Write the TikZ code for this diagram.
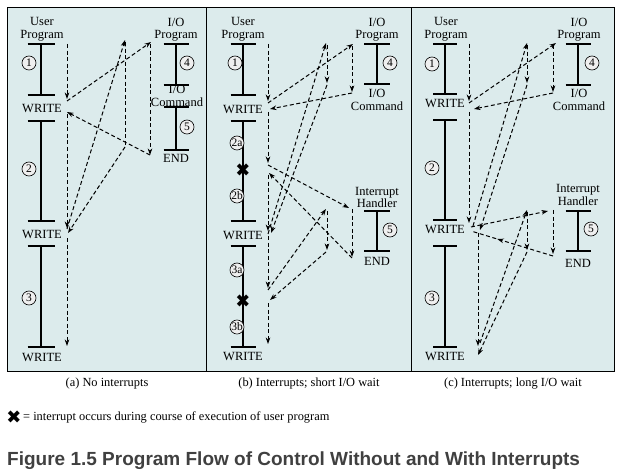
\documentclass[tikz,border=0pt]{standalone}
\usepackage{fontspec}
\setmainfont{Liberation Serif}
\newfontfamily\dejavu{DejaVu Sans}
\newfontfamily\titlefont{Liberation Sans}
\usetikzlibrary{arrows.meta,decorations.markings}
\definecolor{panelbg}{HTML}{DCEBEC}
\definecolor{circfill}{HTML}{EFEFEF}
\definecolor{titlegray}{HTML}{404040}
\tikzset{
  lbl/.style={inner sep=0pt, align=center, font=\fontsize{12.5}{12.5}\selectfont},
  numc/.style={circle, draw, line width=0.6pt, fill=circfill, inner sep=0pt, minimum size=14pt, font=\fontsize{11.5}{10}\selectfont},
  bar/.style={line width=2.5pt},
  flow/.style={line width=1pt, dash pattern=on 4pt off 2.6pt, -{Stealth[length=6.5pt,width=4.6pt]}},
  plainflow/.style={line width=1pt, dash pattern=on 4pt off 2.6pt},
  midarrow/.style={line width=1pt, dash pattern=on 4pt off 2.6pt, postaction={decorate},
     decoration={markings, mark=at position 0.68 with {\arrow{Stealth[length=6.5pt,width=4.6pt]}}}},
  xmark/.style={inner sep=0pt, font=\dejavu\fontsize{18}{18}\selectfont},
  captext/.style={inner sep=0pt, font=\fontsize{12.4}{12}\selectfont},
}
\newcommand\mybar[3]{\draw[bar] ({#1-#3},#2) -- ({#1+#3},#2);}
\begin{document}
\begin{tikzpicture}[x=1pt,y=-1pt]
\useasboundingbox (0,0) rectangle (627,476);
% panels
\filldraw[fill=panelbg, draw=black, line width=1pt] (7,8) rectangle (614,371);
\draw[line width=1pt] (206,8) -- (206,371);
\draw[line width=1pt] (411,8) -- (411,371);

% ================= panel (a) =================
\node[lbl] (aUP) at (42,29.5) {User\\Program};
\foreach \y in {44,95,121,221,246,347} {\mybar{41}{\y}{13.5}}
\draw[bar] (41,44) -- (41,95);
\draw[bar] (41,121) -- (41,221);
\draw[bar] (41,246) -- (41,347);
\node[lbl] (aW1) at (42,109) {WRITE};
\node[lbl] (aW2) at (42,235) {WRITE};
\node[lbl] (aW3) at (42,358) {WRITE};
\node[numc] (ac1) at (29,63) {1};
\node[numc] (ac2) at (29,169) {2};
\node[numc] (ac3) at (29,298) {3};

\node[lbl] (aIOP) at (176,29.5) {I/O\\Program};
\foreach \y in {44,85,107,150} {\mybar{176}{\y}{12.5}}
\draw[bar] (176,44) -- (176,85);
\draw[bar] (176,107) -- (176,150);
\node[lbl] (aIOC) at (177,96) {I/O\\Command};
\node[lbl] (aEND) at (176,158) {END};
\node[numc] (ac4) at (187,63) {4};
\node[numc] (ac5) at (187,127) {5};

\coordinate (a0) at (67,44);
\coordinate (a1) at (67,99);
\coordinate (a2) at (67,101);
\coordinate (a3) at (151,42);
\coordinate (a4) at (150,44);
\coordinate (a5) at (150,155);
\coordinate (a6) at (67,112);
\coordinate (a7) at (67,114);
\coordinate (a8) at (67,228);
\coordinate (a9) at (67,229);
\coordinate (a10) at (125,40);
\coordinate (a11) at (125,42);
\coordinate (a12) at (125,147);
\coordinate (a13) at (68,233);
\coordinate (a14) at (67,238);
\coordinate (a15) at (67,346);
\draw[flow] (a0) -- (a1);
\draw[flow] (a2) -- (a3);
\draw[flow] (a4) -- (a5);
\draw[flow] (a5) -- (a6);
\draw[flow] (a7) -- (a8);
\draw[flow] (a9) -- (a10);
\draw[plainflow] (a11) -- (a12);
\draw[flow] (a12) -- (a13);
\draw[flow] (a14) -- (a15);

% ================= panel (b) =================
\node[lbl] (bUP) at (243,29.5) {User\\Program};
\foreach \y in {44,95,121,221,246,347} {\mybar{243}{\y}{12.5}}
\draw[bar] (243,44) -- (243,95);
\draw[bar] (243,121) -- (243,221);
\draw[bar] (243,246) -- (243,347);
\node[lbl] (bW1) at (243,110) {WRITE};
\node[lbl] (bW2) at (243,236) {WRITE};
\node[lbl] (bW3) at (243,357) {WRITE};
\node[numc] (bc1) at (235,63) {1};
\node[numc] (bc2a) at (237,143) {2a};
\node[numc] (bc2b) at (237,196) {2b};
\node[numc] (bc3a) at (237,270) {3a};
\node[numc] (bc3b) at (237,327) {3b};
\node[xmark] (bx1) at (243,170) {✖};
\node[xmark] (bx2) at (243,301) {✖};

\node[lbl] (bIOP) at (377,29.5) {I/O\\Program};
\foreach \y in {44,84} {\mybar{377}{\y}{13}}
\draw[bar] (377,44) -- (377,84);
\node[lbl] (bIOC) at (377,100) {I/O\\Command};
\node[numc] (bc4) at (390,63) {4};
\node[lbl] (bIH) at (377,197.5) {Interrupt\\Handler};
\foreach \y in {211,251} {\mybar{377}{\y}{13}}
\draw[bar] (377,211) -- (377,251);
\node[numc] (bc5) at (390,230) {5};
\node[lbl] (bEND) at (377,261) {END};

\coordinate (b0) at (268,44);
\coordinate (b1) at (268,101);
\coordinate (b2) at (268,103);
\coordinate (b3) at (353,44);
\coordinate (b4) at (352,46);
\coordinate (b5) at (352,92);
\coordinate (b6) at (352,93);
\coordinate (b7) at (270,109);
\coordinate (b8) at (268,112);
\coordinate (b9) at (268,163);
\coordinate (b10) at (268,165);
\coordinate (b11) at (349,208);
\coordinate (b12) at (352,209);
\coordinate (b13) at (352,257);
\coordinate (b14) at (352,258);
\coordinate (b15) at (269,173);
\coordinate (b16) at (268,175);
\coordinate (b17) at (268,231);
\coordinate (b18) at (268,234);
\coordinate (b19) at (326,43);
\coordinate (b20) at (327,45);
\coordinate (b21) at (327,83);
\coordinate (b22) at (327,85);
\coordinate (b23) at (271,233);
\coordinate (b24) at (268,236);
\coordinate (b25) at (268,288);
\coordinate (b26) at (268,290);
\coordinate (b27) at (326,209);
\coordinate (b28) at (327,211);
\coordinate (b29) at (327,250);
\coordinate (b30) at (326,252);
\coordinate (b31) at (270,300);
\coordinate (b32) at (268,303);
\coordinate (b33) at (268,344);
\draw[flow] (b0) -- (b1);
\draw[flow] (b2) -- (b3);
\draw[flow] (b4) -- (b5);
\draw[flow] (b6) -- (b7);
\draw[flow] (b8) -- (b9);
\draw[flow] (b10) -- (b11);
\draw[flow] (b12) -- (b13);
\draw[flow] (b14) -- (b15);
\draw[flow] (b16) -- (b17);
\draw[flow] (b18) -- (b19);
\draw[flow] (b20) -- (b21);
\draw[flow] (b22) -- (b23);
\draw[flow] (b24) -- (b25);
\draw[flow] (b26) -- (b27);
\draw[flow] (b28) -- (b29);
\draw[flow] (b30) -- (b31);
\draw[flow] (b32) -- (b33);

% ================= panel (c) =================
\node[lbl] (cUP) at (446,29.5) {User\\Program};
\foreach \y in {44,94,120,220,246,347} {\mybar{445}{\y}{12}}
\draw[bar] (445,44) -- (445,94);
\draw[bar] (445,120) -- (445,220);
\draw[bar] (445,246) -- (445,347);
\node[lbl] (cW1) at (445,104) {WRITE};
\node[lbl] (cW2) at (445,230) {WRITE};
\node[lbl] (cW3) at (445,357) {WRITE};
\node[numc] (cc1) at (432,64) {1};
\node[numc] (cc2) at (432,168) {2};
\node[numc] (cc3) at (432,298) {3};

\node[lbl] (cIOP) at (579,29.5) {I/O\\Program};
\foreach \y in {44,85} {\mybar{578}{\y}{12.5}}
\draw[bar] (578,44) -- (578,85);
\node[lbl] (cIOC) at (579,100) {I/O\\Command};
\node[numc] (cc4) at (592,63) {4};
\node[lbl] (cIH) at (578,195) {Interrupt\\Handler};
\foreach \y in {211,251} {\mybar{578}{\y}{12.5}}
\draw[bar] (578,211) -- (578,251);
\node[numc] (cc5) at (591,229) {5};
\node[lbl] (cEND) at (578,263) {END};

\coordinate (c0) at (469,44);
\coordinate (c1) at (469,101);
\coordinate (c2) at (469,103);
\coordinate (c3) at (556,43);
\coordinate (c4) at (553,45);
\coordinate (c5) at (553,92);
\coordinate (c6) at (553,93);
\coordinate (c7) at (474,109);
\coordinate (c8) at (469,112);
\coordinate (c9) at (469,223);
\coordinate (c10) at (471,227);
\coordinate (c11) at (548,211);
\coordinate (c12) at (553,210);
\coordinate (c13) at (553,254);
\coordinate (c14) at (553,256);
\coordinate (c15) at (471,231);
\coordinate (c16) at (473,226);
\coordinate (c17) at (527,43);
\coordinate (c18) at (527,45);
\coordinate (c19) at (527,83);
\coordinate (c20) at (527,85);
\coordinate (c21) at (480,230);
\coordinate (c22) at (478,233);
\coordinate (c23) at (478,346);
\coordinate (c24) at (480,343);
\coordinate (c25) at (527,210);
\coordinate (c26) at (527,212);
\coordinate (c27) at (527,250);
\coordinate (c28) at (527,252);
\coordinate (c29) at (478,355);
\draw[flow] (c0) -- (c1);
\draw[flow] (c2) -- (c3);
\draw[flow] (c4) -- (c5);
\draw[flow] (c6) -- (c7);
\draw[flow] (c8) -- (c9);
\draw[flow] (c10) -- (c11);
\draw[flow] (c12) -- (c13);
\draw[midarrow] (c14) -- (c15);
\draw[flow] (c16) -- (c17);
\draw[flow] (c18) -- (c19);
\draw[flow] (c20) -- (c21);
\draw[flow] (c22) -- (c23);
\draw[flow] (c24) -- (c25);
\draw[flow] (c26) -- (c27);
\draw[flow] (c28) -- (c29);

% captions
\node[captext] (capa) at (107,384) {(a) No interrupts};
\node[captext] (capb) at (309,384) {(b) Interrupts; short I/O wait};
\node[captext] (capc) at (513,384) {(c) Interrupts; long I/O wait};
\node[xmark] (legx) at (14,417) {✖};
\node[captext, anchor=west] (legt) at (23,417) {= interrupt occurs during course of execution of user program};
\node[inner sep=0pt, anchor=west, text=titlegray, font=\titlefont\bfseries\fontsize{19}{19}\selectfont] (title) at (7,461) {Figure 1.5 Program Flow of Control Without and With Interrupts};
\end{tikzpicture}
\end{document}
